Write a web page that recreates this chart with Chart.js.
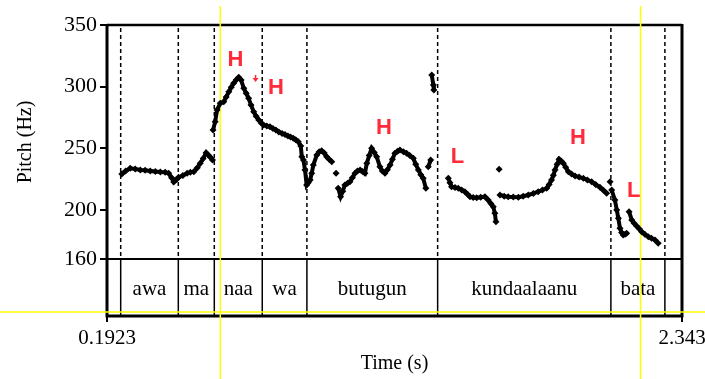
<!DOCTYPE html>
<html>
<head>
<meta charset="utf-8">
<script src="https://cdn.jsdelivr.net/npm/chart.js@4.4.0/dist/chart.umd.min.js"></script>
<style>
  html, body { margin: 0; padding: 0; background: #fff; }
  #wrap { width: 705px; height: 379px; position: relative; }
</style>
</head>
<body>
<div id="wrap"><canvas id="pitchChart"></canvas></div>
<script>
// time axis (s) and pitch axis (Hz)
const timeRange = [0.1923, 2.343];
const timeTickLabels = ["0.1923", "2.343"];
const pitchTicks = [160, 200, 250, 300, 350];
const tierFloor = 113.7; // pitch value at the bottom of the word tier

// pitch track, null = unvoiced gap
const pitchTimes = [
  0.248, 0.262, 0.279, 0.298, 0.317, 0.335, 0.354, 0.373, 0.392, 0.410, 0.423, 0.434, 0.442,
  0.452, 0.460, 0.476, 0.492, 0.504, 0.517, 0.530, 0.541, 0.552, 0.563, 0.571, 0.579, 0.587,
  null,
  0.589, 0.597, 0.604, 0.616, 0.629, 0.638, 0.648, 0.657, 0.666, 0.676, 0.685, 0.694, 0.704,
  0.713, 0.722, 0.731, 0.741, 0.750, 0.760, 0.769, 0.778, 0.790, 0.802, 0.813, 0.824, 0.835,
  0.847, 0.858, 0.869, 0.879, 0.889, 0.898, 0.908, 0.917, 0.921, 0.927, 0.933, 0.939, 0.945,
  0.952, 0.958, 0.964, 0.977, 0.986, 0.995, 1.005, 1.014, 1.023, 1.033,
  null, 1.049, null,
  1.057, 1.066, 1.074, 1.082, 1.092, 1.101, 1.110, 1.120, 1.129, 1.139, 1.148, 1.157, 1.164,
  1.173, 1.182, 1.192, 1.201, 1.213, 1.222, 1.232, 1.241, 1.251, 1.260, 1.269, 1.279, 1.288,
  1.301, 1.313, 1.325, 1.338, 1.347, 1.357, 1.366, 1.375, 1.385,
  null, 1.394, 1.403,
  null, 1.407, 1.413, 1.415,
  null,
  1.469, 1.475, 1.481, 1.494, 1.506, 1.519, 1.531, 1.541, 1.550, 1.562, 1.575, 1.590, 1.606,
  1.618, 1.628, 1.637, 1.643, 1.647,
  null, 1.659, null,
  1.662, 1.678, 1.693, 1.712, 1.731, 1.749, 1.768, 1.787, 1.805, 1.821, 1.837, 1.846, 1.855,
  1.862, 1.868, 1.876, 1.883, 1.891, 1.899, 1.908, 1.918, 1.930, 1.943, 1.958, 1.974, 1.989,
  2.005, 2.020, 2.036, 2.049, 2.061,
  null, 2.074, null,
  2.080, 2.092, 2.099, 2.105, 2.111, 2.117, 2.123, 2.130, 2.136,
  null,
  2.145, 2.155, 2.164, 2.173, 2.183, 2.192, 2.204, 2.217, 2.229, 2.242, 2.254
];
const pitchValues = [
  229.0, 231.5, 233.6, 233.0, 232.3, 232.0, 231.5, 231.0, 230.6, 230.4, 229.6, 226.0, 222.5,
  224.5, 226.3, 227.8, 229.6, 230.5, 230.9, 234.0, 237.7, 241.5, 246.3, 244.5, 242.6, 240.4,
  null,
  264.7, 271.5, 281.0, 286.4, 287.7, 291.5, 295.8, 299.5, 302.7, 305.5, 307.5, 305.3, 298.6,
  294.5, 290.5, 285.0, 279.6, 276.0, 272.9, 270.5, 268.8, 268.0, 267.4, 266.0, 264.7, 263.2,
  261.9, 261.0, 259.9, 259.0, 258.0, 256.8, 255.2, 251.7, 243.1, 240.4, 232.3, 220.1, 222.0,
  224.1, 229.6, 236.3, 244.4, 247.0, 247.9, 246.0, 243.1, 241.0, 239.0,
  null, 229.6, null,
  217.4, 210.6, 215.0, 220.1, 221.5, 222.8, 226.0, 229.6, 231.5, 232.3, 231.0, 229.6, 237.7,
  244.0, 249.9, 246.5, 243.1, 234.9, 231.5, 229.6, 232.5, 236.3, 241.0, 245.8, 247.5, 248.5,
  247.0, 245.8, 244.0, 241.8, 237.0, 232.3, 228.5, 225.5, 217.4,
  null, 234.9, 240.4,
  null, 309.4, 301.3, 297.2,
  null,
  225.5, 222.0, 218.7, 218.0, 217.4, 216.0, 214.6, 212.5, 210.6, 210.0, 209.8, 210.2, 210.6,
  207.9, 205.0, 202.5, 197.1, 190.3,
  null, 232.8, null,
  212.0, 211.0, 210.6, 210.3, 210.1, 211.0, 212.0, 213.2, 214.6, 216.0, 217.4, 220.5, 224.1,
  228.0, 232.3, 237.0, 240.9, 239.5, 237.7, 234.5, 230.9, 229.0, 227.4, 226.5, 225.5, 224.2,
  222.8, 220.5, 218.2, 215.8, 213.3,
  null, 222.8, null,
  216.0, 207.9, 199.8, 193.0, 184.9, 181.5, 179.5, 180.0, 180.9,
  null,
  198.4, 191.7, 189.0, 186.8, 184.5, 182.2, 180.0, 178.1, 176.8, 175.4, 172.7
];

// word tier
const wordBounds = [0.2435, 0.459, 0.5936, 0.773, 0.940, 1.429, 2.077, 2.279];
const wordLabels = ["awa", "ma", "naa", "wa", "butugun", "kundaalaanu", "bata"];

// tone marks
const toneLabels = ["H", "H", "H", "L", "H", "L"];
const toneTimes = [0.673, 0.824, 1.228, 1.503, 1.954, 2.162];
const tonePitch = [321.6, 298.6, 266.8, 242.8, 258.2, 215.2];
const downstepTime = 0.748;
const downstepPitch = 306.2;

// yellow cursor lines
const cursorTimes = [0.616, 2.188];
const cursorPitch = 117.0;

const serif = '"Liberation Serif", "Times New Roman", serif';

const points = pitchTimes.map((t, i) => ({ x: t, y: pitchValues[i] }));

const tierPlugin = {
    id: "tier",
    beforeDatasetsDraw(chart) {
        const { ctx, chartArea: a, scales: { x, y } } = chart;
        const y160 = y.getPixelForValue(pitchTicks[0]);
        const yTop = y.getPixelForValue(pitchTicks[pitchTicks.length - 1]);
        ctx.save();
        ctx.strokeStyle = "#000";

        // dashed word boundaries in pitch pane
        ctx.lineWidth = 1.5;
        ctx.setLineDash([4, 3]);
        wordBounds.forEach((t) => {
            const px = x.getPixelForValue(t);
            ctx.beginPath();
            ctx.moveTo(px, yTop + 3);
            ctx.lineTo(px, y160);
            ctx.stroke();
        });
        ctx.setLineDash([]);

        // solid boundaries in the tier
        wordBounds.forEach((t) => {
            const px = x.getPixelForValue(t);
            ctx.beginPath();
            ctx.moveTo(px, y160);
            ctx.lineTo(px, a.bottom);
            ctx.stroke();
        });

        // tier top line
        ctx.lineWidth = 2;
        ctx.beginPath();
        ctx.moveTo(a.left, y160);
        ctx.lineTo(a.right, y160);
        ctx.stroke();

        // frame
        ctx.lineWidth = 2.5;
        ctx.beginPath();
        ctx.moveTo(a.left, a.top);
        ctx.lineTo(a.right, a.top);
        ctx.stroke();
        ctx.lineWidth = 3;
        ctx.beginPath();
        ctx.moveTo(a.left, a.top - 1);
        ctx.lineTo(a.left, a.bottom);
        ctx.lineTo(a.right, a.bottom);
        ctx.lineTo(a.right, a.top - 1);
        ctx.stroke();

        // word labels
        ctx.fillStyle = "#000";
        ctx.font = "21px " + serif;
        ctx.textAlign = "center";
        ctx.textBaseline = "alphabetic";
        wordLabels.forEach((w, i) => {
            const cx = (x.getPixelForValue(wordBounds[i]) + x.getPixelForValue(wordBounds[i + 1])) / 2;
            ctx.fillText(w, cx, a.bottom - 21);
        });

        // time tick labels
        timeRange.forEach((t, i) => {
            ctx.fillText(timeTickLabels[i], x.getPixelForValue(t), 344);
        });

        // axis titles
        ctx.font = "20px " + serif;
        ctx.fillText("Time (s)", (a.left + a.right) / 2, 369);
        ctx.save();
        ctx.translate(31, (yTop + y160) / 2);
        ctx.rotate(-Math.PI / 2);
        ctx.fillText("Pitch (Hz)", 0, 0);
        ctx.restore();

        // yellow cursors
        ctx.strokeStyle = "#ffff00";
        ctx.lineWidth = 1.5;
        cursorTimes.forEach((t) => {
            const px = x.getPixelForValue(t);
            ctx.beginPath();
            ctx.moveTo(px, 6);
            ctx.lineTo(px, chart.height);
            ctx.stroke();
        });
        const cy = y.getPixelForValue(cursorPitch);
        ctx.beginPath();
        ctx.moveTo(0, cy);
        ctx.lineTo(chart.width, cy);
        ctx.stroke();
        ctx.restore();
    },
    afterDatasetsDraw(chart) {
        const { ctx, scales: { x, y } } = chart;
        ctx.save();
        ctx.fillStyle = "#ff2a3a";
        ctx.font = 'bold 22px "Liberation Sans", Arial, sans-serif';
        ctx.textAlign = "center";
        ctx.textBaseline = "middle";
        toneLabels.forEach((s, i) => {
            ctx.fillText(s, x.getPixelForValue(toneTimes[i]), y.getPixelForValue(tonePitch[i]));
        });
        // little downstep arrow
        const ax = x.getPixelForValue(downstepTime);
        const ay = y.getPixelForValue(downstepPitch);
        ctx.fillRect(ax - 0.75, ay - 4, 1.5, 4);
        ctx.beginPath();
        ctx.moveTo(ax - 3, ay - 1);
        ctx.lineTo(ax + 3, ay - 1);
        ctx.lineTo(ax, ay + 3);
        ctx.closePath();
        ctx.fill();
        ctx.restore();
    }
};

new Chart(document.getElementById("pitchChart").getContext("2d"), {
    type: "scatter",
    data: {
        datasets: [{
            label: "Pitch",
            data: points,
            showLine: true,
            spanGaps: false,
            borderColor: "#000",
            borderWidth: 4,
            pointStyle: "rectRot",
            pointRadius: 3.5,
            pointBorderWidth: 0,
            pointBackgroundColor: "#000",
        }],
    },
    options: {
        responsive: true,
        maintainAspectRatio: false,
        animation: false,
        events: [],
        layout: { padding: { top: 25, right: 23, left: 0, bottom: 0 } },
        plugins: {
            legend: { display: false },
            tooltip: { enabled: false },
        },
        scales: {
            x: {
                type: "linear",
                min: timeRange[0],
                max: timeRange[1],
                afterBuildTicks: (scale) => {
                    scale.ticks = timeRange.map((v) => ({ value: v }));
                },
                afterFit: (scale) => { scale.height = 63; },
                border: { display: false },
                grid: { drawOnChartArea: false, color: "#000", lineWidth: 2, tickLength: 6 },
                ticks: { display: false },
            },
            y: {
                min: tierFloor,
                max: pitchTicks[pitchTicks.length - 1],
                afterBuildTicks: (scale) => {
                    scale.ticks = pitchTicks.map((v) => ({ value: v }));
                },
                afterFit: (scale) => { scale.width = 107; },
                border: { display: false },
                grid: { drawOnChartArea: false, color: "#000", lineWidth: 2, tickLength: 7 },
                ticks: {
                    color: "#000",
                    font: { family: serif, size: 22 },
                    padding: 3,
                    callback: (v) => String(v),
                },
            },
        },
    },
    plugins: [tierPlugin],
});
</script>
</body>
</html>
